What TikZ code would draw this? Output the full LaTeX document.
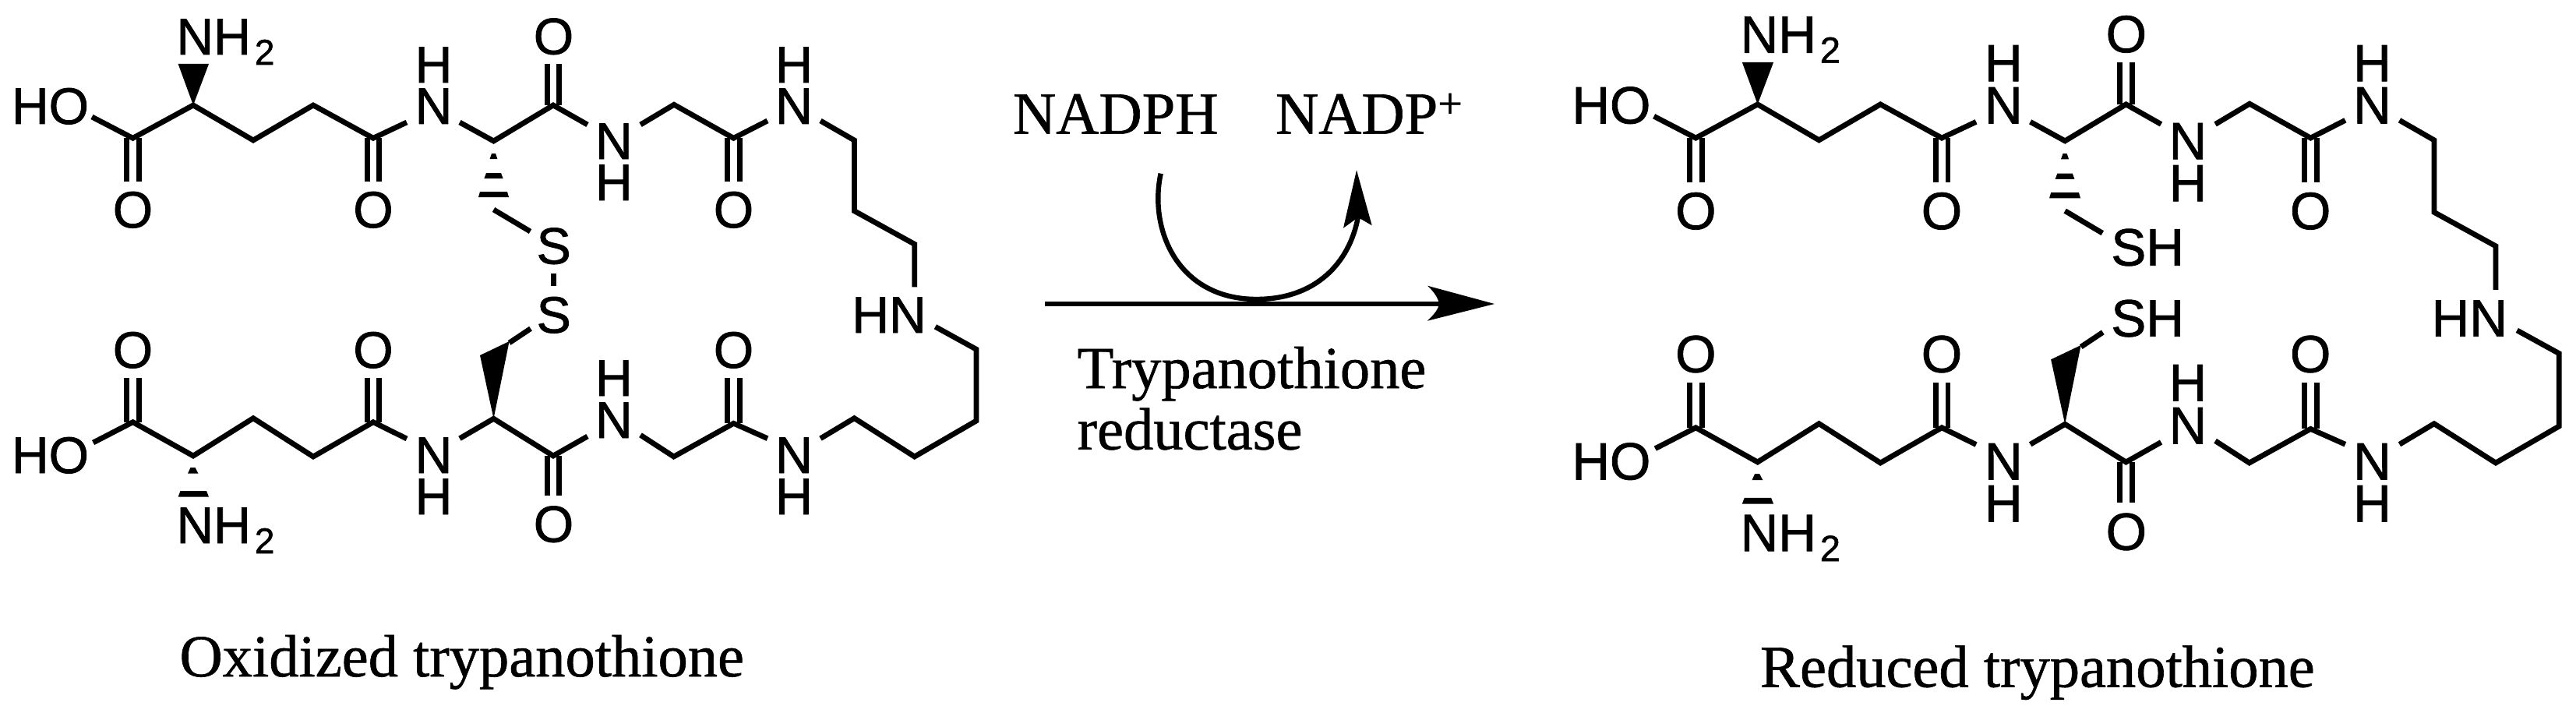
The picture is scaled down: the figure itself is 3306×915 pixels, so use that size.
\documentclass[tikz,border=0pt]{standalone}
\usepackage{fontspec}
\setmainfont{Liberation Serif}
\newfontfamily\arialfam[FakeBold=1.2]{Liberation Sans}
\newfontfamily\timesheavy[FakeBold=0.8]{Liberation Serif}
\newcommand{\asize}{66}
\newcommand{\ssize}{46}
\tikzset{
  x=1pt,y=-1pt,
  bond/.style={draw=black,line width=6.8pt,line join=miter,miter limit=10},
  atom/.style={inner sep=0pt,outer sep=0pt,anchor=base,font=\arialfam\fontsize{\asize}{\asize}\selectfont},
  caption/.style={inner sep=0pt,outer sep=0pt,anchor=base west,font=\timesheavy\fontsize{76.5}{76.5}\selectfont},
  solid wedge/.style={fill=black,draw=none},
}
% two-letter labels with a subscript
\newcommand{\amine}{NH\raisebox{-13pt}{\fontsize{\ssize}{\ssize}\selectfont\hspace{5pt}2}}
% the skeleton shared by both molecules; #1 = prefix of names
\newcommand{\skeleton}[1]{%
  % --- upper chain ---
  \node[atom] (#1HOa) at (64.5,159) {HO};
  \node[atom,anchor=base west] (#1Nta) at (226.5,70) {\amine};
  \node[atom] (#1Oa) at (170.5,292) {O};
  \node[atom] (#1Ob) at (479,292) {O};
  \node[atom] (#1Na) at (556.5,159) {N};
  \node[atom] (#1Ha) at (556.5,106) {H};
  \node[atom] (#1Oc) at (710.5,69.5) {O};
  \node[atom] (#1Nb) at (787.8,204) {N};
  \node[atom] (#1Hb) at (787.8,257) {H};
  \node[atom] (#1Od) at (941.5,292) {O};
  \node[atom] (#1Nc) at (1019,159) {N};
  \node[atom] (#1Hc) at (1019,106) {H};
  \node[atom,anchor=base] (#1HNm) at (1141,427) {HN};
  % --- lower chain ---
  \node[atom] (#1HOb) at (64.5,607) {HO};
  \node[atom,anchor=base west] (#1Ntb) at (226.5,697) {\amine};
  \node[atom] (#1Oe) at (170.5,472) {O};
  \node[atom] (#1Of) at (479,472) {O};
  \node[atom] (#1Nd) at (556.5,607) {N};
  \node[atom] (#1Hd) at (556.5,660) {H};
  \node[atom] (#1Og) at (710.5,695.5) {O};
  \node[atom] (#1Ne) at (787.8,562) {N};
  \node[atom] (#1He) at (787.8,508) {H};
  \node[atom] (#1Oh) at (941.5,472) {O};
  \node[atom] (#1Nf) at (1019,607) {N};
  \node[atom] (#1Hf) at (1019,660) {H};
  % --- vertices and free bond ends, upper ---
  \coordinate (#1e1) at (118,150);
  \coordinate (#1c1) at (170.5,177.3);
  \coordinate (#1c2) at (248,135);
  \coordinate (#1c3) at (325,180);
  \coordinate (#1c4) at (402,135);
  \coordinate (#1c5) at (479,177.3);
  \coordinate (#1e2) at (522,157);
  \coordinate (#1e3) at (590,157);
  \coordinate (#1c6) at (633.5,181);
  \coordinate (#1c7) at (710,135);
  \coordinate (#1e4) at (754,160);
  \coordinate (#1e5) at (822,160);
  \coordinate (#1c8) at (865,134.3);
  \coordinate (#1c9) at (941.5,177.3);
  \coordinate (#1e6) at (985,155);
  \coordinate (#1e7) at (1053,155);
  \coordinate (#1c10) at (1096.4,180);
  \coordinate (#1c11) at (1096.4,270.7);
  \coordinate (#1c12) at (1173.7,313.3);
  \coordinate (#1e8) at (1173.7,368.3);
  \coordinate (#1e9) at (633.5,269);
  \coordinate (#1e10) at (680.5,297);
  % --- vertices and free bond ends, lower ---
  \coordinate (#1e11) at (1200.4,419.3);
  \coordinate (#1c13) at (1253,448.3);
  \coordinate (#1c14) at (1253,540);
  \coordinate (#1c15) at (1173.7,586);
  \coordinate (#1c16) at (1096.4,536.7);
  \coordinate (#1e12) at (1053,562.7);
  \coordinate (#1e13) at (985,562.7);
  \coordinate (#1c17) at (941.5,543.3);
  \coordinate (#1c18) at (864.7,586);
  \coordinate (#1e14) at (822,558.3);
  \coordinate (#1e15) at (754,560);
  \coordinate (#1c19) at (710,585);
  \coordinate (#1c20) at (633.5,537.3);
  \coordinate (#1e16) at (590,562.7);
  \coordinate (#1e17) at (522,563);
  \coordinate (#1c21) at (479,541.7);
  \coordinate (#1c22) at (402,586);
  \coordinate (#1c23) at (325,536.7);
  \coordinate (#1c24) at (248,585);
  \coordinate (#1c25) at (170.5,541.7);
  \coordinate (#1e18) at (119.6,568);
  \coordinate (#1c26) at (653.6,440);
  \coordinate (#1e19) at (681,421.7);
  % --- single bonds ---
  \draw[bond] (#1e1) -- (#1c1) -- (#1c2) -- (#1c3) -- (#1c4) -- (#1c5) -- (#1e2);
  \draw[bond] (#1e3) -- (#1c6) -- (#1c7) -- (#1e4);
  \draw[bond] (#1e5) -- (#1c8) -- (#1c9) -- (#1e6);
  \draw[bond] (#1e7) -- (#1c10) -- (#1c11) -- (#1c12) -- (#1e8);
  \draw[bond] (#1e9) -- (#1e10);
  \draw[bond] (#1e11) -- (#1c13) -- (#1c14) -- (#1c15) -- (#1c16) -- (#1e12);
  \draw[bond] (#1e13) -- (#1c17) -- (#1c18) -- (#1e14);
  \draw[bond] (#1e15) -- (#1c19) -- (#1c20) -- (#1e16);
  \draw[bond] (#1e17) -- (#1c21) -- (#1c22) -- (#1c23) -- (#1c24) -- (#1c25) -- (#1e18);
  \draw[bond] (#1c26) -- (#1e19);
  % --- double bonds ---
  \foreach \dx in {-7.8,7.8}{
    \draw[bond] ([xshift=\dx pt]#1c1) -- ++(0,55.5);
    \draw[bond] ([xshift=\dx pt]#1c5) -- ++(0,55.5);
    \draw[bond] ([xshift=\dx pt]#1c7) -- ++(0,-53);
    \draw[bond] ([xshift=\dx pt]#1c9) -- ++(0,55.5);
    \draw[bond] ([xshift=\dx pt]#1c25) -- ++(0,-56.5);
    \draw[bond] ([xshift=\dx pt]#1c21) -- ++(0,-56.5);
    \draw[bond] ([xshift=\dx pt]#1c17) -- ++(0,-58);
    \draw[bond] ([xshift=\dx pt]#1c19) -- ++(0,51);
  }
  % --- stereo bonds ---
  \fill[solid wedge] (#1c2) -- (228.6,82) -- (268,82) -- cycle;
  \fill[solid wedge] (628.6,204) -- (631,197) -- (636,197) -- (638.4,204) -- cycle;
  \fill[solid wedge] (621.4,229) -- (624,222) -- (643,222) -- (645.6,229) -- cycle;
  \fill[solid wedge] (614,253) -- (616,246) -- (651,246) -- (653,253) -- cycle;
  \fill[solid wedge] (241,607.7) -- (244.5,600) -- (250.5,600) -- (254.5,607.7) -- cycle;
  \fill[solid wedge] (228.6,637.7) -- (231.5,630) -- (265,630) -- (268,637.7) -- cycle;
  \fill[solid wedge] (#1c20) -- (616,456) -- (653.6,438) -- cycle;
}
\begin{document}
\begin{tikzpicture}
\useasboundingbox (0,0) rectangle (3306,915);
\fill[white] (0,0) rectangle (3306,915);
% ---------- oxidized ----------
\skeleton{L}
\node[atom] (LSa) at (710.7,338.5) {S};
\node[atom] (LSb) at (710.7,427) {S};
\coordinate (LSSa) at (710.7,351);
\coordinate (LSSb) at (710.7,367);
\draw[bond] (LSSa) -- (LSSb);
\node[caption] (oxcap) at (230.5,868) {Oxidized trypanothione};
% ---------- reaction arrow ----------
\node[caption] (nadph) at (1300,171.5) {NADPH};
\node[caption] (nadp) at (1637,171.5) {NADP\raisebox{20pt}{\fontsize{56}{56}\selectfont +}};
\node[caption] (tr1) at (1382.6,498) {Trypanothione};
\node[caption] (tr2) at (1382.6,576.7) {reductase};
\coordinate (arrowstart) at (1341,390);
\coordinate (arrownotch) at (1850,390);
\coordinate (arrowtip) at (1918,390);
\draw[line width=6pt] (arrowstart) -- (arrownotch);
\fill (arrowtip) -- (1832,411.7) .. controls (1842,402) and (1846,396) .. (1847,390)
      .. controls (1846,384) and (1842,376) .. (1832,366.7) -- cycle;
\coordinate (cstart) at (1489.7,222.7);
\coordinate (cbottom) at (1612.5,384);
\coordinate (cend) at (1743,278);
\coordinate (ctip) at (1741,218.3);
\draw[line width=6.4pt] (cstart) .. controls (1474,295) and (1512,384) .. (cbottom)
      .. controls (1688,384) and (1732,338) .. (cend);
\fill (ctip) -- (1760.7,289.3) -- (1743,279) -- (1724,292.7) -- cycle;
% ---------- reduced ----------
\begin{scope}[shift={(2001.9,-3.8)},xscale=1.0231,yscale=1.02]
\renewcommand{\asize}{67.3}
\renewcommand{\ssize}{47}
\skeleton{R}
\node[atom,anchor=base west] (RSa) at (691.5,337.7) {SH};
\node[atom,anchor=base west] (RSb) at (691.5,427) {SH};
\end{scope}
\node[caption] (redcap) at (2259,881.5) {Reduced trypanothione};
\end{tikzpicture}
\end{document}
